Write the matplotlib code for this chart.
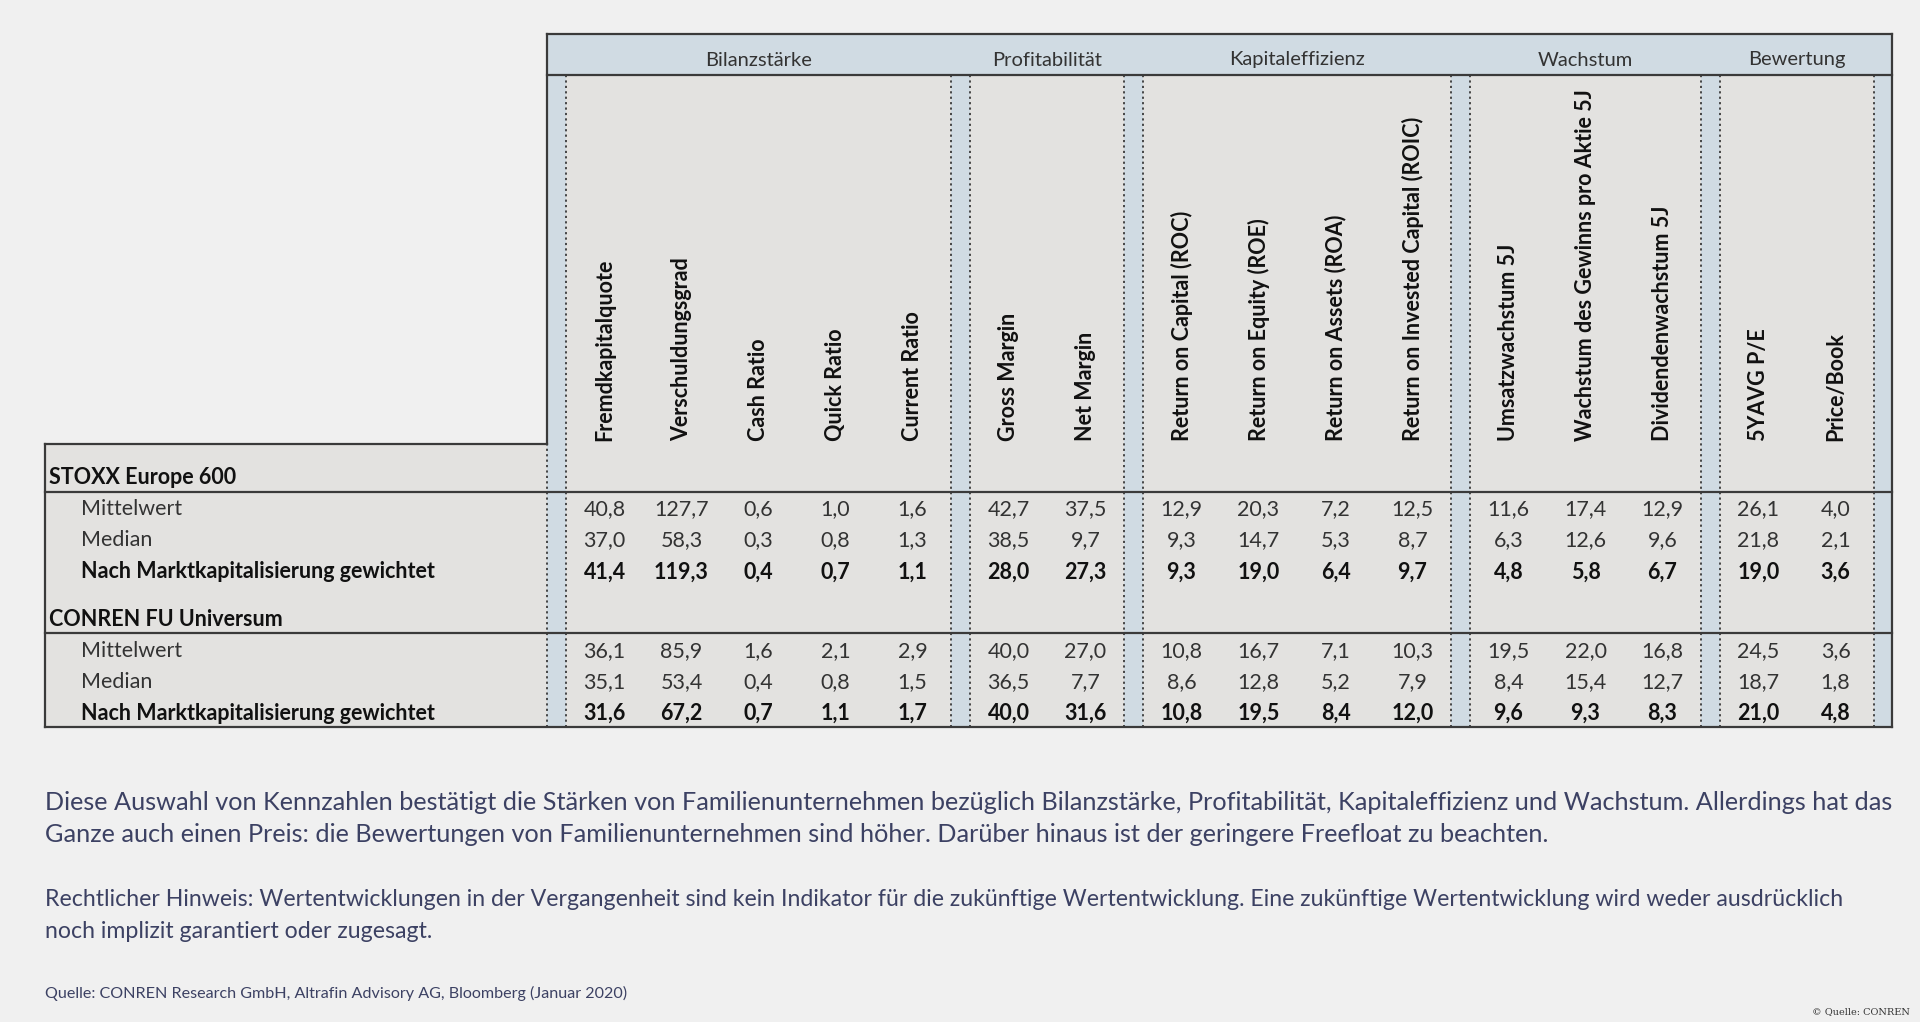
# -*- coding: utf-8 -*-
import numpy as np
import matplotlib.pyplot as plt
from matplotlib.patches import Rectangle

# Gruppen und Kennzahlen
gruppen = ['Bilanzstärke', 'Profitabilität', 'Kapitaleffizienz', 'Wachstum', 'Bewertung']
spalten = [
    ['Fremdkapitalquote', 'Verschuldungsgrad', 'Cash Ratio', 'Quick Ratio', 'Current Ratio'],
    ['Gross Margin', 'Net Margin'],
    ['Return on Capital (ROC)', 'Return on Equity (ROE)', 'Return on Assets (ROA)',
     'Return on Invested Capital (ROIC)'],
    ['Umsatzwachstum 5J', 'Wachstum des Gewinns pro Aktie 5J', 'Dividendenwachstum 5J'],
    ['5YAVG P/E', 'Price/Book'],
]

bloecke = ['STOXX Europe 600', 'CONREN FU Universum']
zeilen = ['Mittelwert', 'Median', 'Nach Marktkapitalisierung gewichtet']

stoxx_mittel = [40.8, 127.7, 0.6, 1.0, 1.6, 42.7, 37.5, 12.9, 20.3, 7.2, 12.5, 11.6, 17.4, 12.9, 26.1, 4.0]
stoxx_median = [37.0, 58.3, 0.3, 0.8, 1.3, 38.5, 9.7, 9.3, 14.7, 5.3, 8.7, 6.3, 12.6, 9.6, 21.8, 2.1]
stoxx_gew = [41.4, 119.3, 0.4, 0.7, 1.1, 28.0, 27.3, 9.3, 19.0, 6.4, 9.7, 4.8, 5.8, 6.7, 19.0, 3.6]
conren_mittel = [36.1, 85.9, 1.6, 2.1, 2.9, 40.0, 27.0, 10.8, 16.7, 7.1, 10.3, 19.5, 22.0, 16.8, 24.5, 3.6]
conren_median = [35.1, 53.4, 0.4, 0.8, 1.5, 36.5, 7.7, 8.6, 12.8, 5.2, 7.9, 8.4, 15.4, 12.7, 18.7, 1.8]
conren_gew = [31.6, 67.2, 0.7, 1.1, 1.7, 40.0, 31.6, 10.8, 19.5, 8.4, 12.0, 9.6, 9.3, 8.3, 21.0, 4.8]

text1 = ["Diese Auswahl von Kennzahlen bestätigt die Stärken von Familienunternehmen bezüglich Bilanzstärke, "
         "Profitabilität, Kapitaleffizienz und Wachstum. Allerdings hat das",
         "Ganze auch einen Preis: die Bewertungen von Familienunternehmen sind höher. "
         "Darüber hinaus ist der geringere Freefloat zu beachten."]
text2 = ["Rechtlicher Hinweis: Wertentwicklungen in der Vergangenheit sind kein Indikator für die zukünftige "
         "Wertentwicklung. Eine zukünftige Wertentwicklung wird weder ausdrücklich",
         "noch implizit garantiert oder zugesagt."]
quelle = "Quelle: CONREN Research GmbH, Altrafin Advisory AG, Bloomberg (Januar 2020)"
copyright_txt = "© Quelle: CONREN"

daten = [[stoxx_mittel, stoxx_median, stoxx_gew], [conren_mittel, conren_median, conren_gew]]

# Farben
bg = '#f0f0f0'
grau = '#e3e2e0'
blau = '#d0dbe3'
linie = '#3a3a3a'
schrift = '#333333'
absatz = '#3c4163'

plt.rcParams['font.family'] = ['Lato', 'DejaVu Sans']

fig = plt.figure(figsize=(19.2, 10.22), dpi=100, facecolor=bg)
ax = fig.add_axes([0, 0, 1, 1])
ax.set_xlim(0, 1920)
ax.set_ylim(1022, 0)
ax.axis('off')

# Geometrie (Pixel)
x_links, x_kopf, x_rechts = 45, 547, 1892
y_oben, y_gruppe, y_box, y_unten = 34, 75, 444, 727
streifen, breite = 19, 77
y_linie = [492, 633]
y_titel = [478, 620]
y_zeilen = [[509, 540, 572], [651, 682, 713]]
fs = 15.5

# Hintergrund
ax.add_patch(Rectangle((x_kopf, y_oben), x_rechts - x_kopf, y_box - y_oben, fc=grau, ec='none'))
ax.add_patch(Rectangle((x_links, y_box), x_rechts - x_links, y_unten - y_box, fc=grau, ec='none'))
ax.add_patch(Rectangle((x_kopf, y_oben), x_rechts - x_kopf, y_gruppe - y_oben, fc=blau, ec='none'))

# Spaltenpositionen
x = x_kopf
spalten_x = []
for g, cols in zip(gruppen, spalten):
    ax.add_patch(Rectangle((x, y_gruppe), streifen, y_unten - y_gruppe, fc=blau, ec='none'))
    for xs in (x, x + streifen):
        ax.plot([xs, xs], [y_gruppe, y_unten], color=linie, lw=1.3, ls=(0, (1.2, 1.8)))
    x0 = x + streifen
    for i, c in enumerate(cols):
        cx = x0 + breite * (i + 0.5)
        spalten_x.append(cx)
        ax.text(cx, 441, c, rotation=90, ha='center', va='bottom', fontsize=fs,
                fontweight='bold', color='#111111')
    x = x0 + breite * len(cols)
    ax.text((x0 + x) / 2, 60, g, ha='center', va='center', fontsize=14.5, color=schrift)
# letzter Streifen
ax.add_patch(Rectangle((x, y_gruppe), x_rechts - x, y_unten - y_gruppe, fc=blau, ec='none'))
ax.plot([x, x], [y_gruppe, y_unten], color=linie, lw=1.3, ls=(0, (1.2, 1.8)))

# Rahmen
lw = 1.6
ax.plot([x_kopf, x_rechts], [y_oben, y_oben], color=linie, lw=lw)
ax.plot([x_kopf, x_rechts], [y_gruppe, y_gruppe], color=linie, lw=lw)
ax.plot([x_rechts, x_rechts], [y_oben, y_unten], color=linie, lw=lw)
ax.plot([x_kopf, x_kopf], [y_oben, y_box], color=linie, lw=lw)
ax.plot([x_links, x_kopf], [y_box, y_box], color=linie, lw=lw)
ax.plot([x_links, x_links], [y_box, y_unten], color=linie, lw=lw)
ax.plot([x_links, x_rechts], [y_unten, y_unten], color=linie, lw=lw)
for yl in y_linie:
    ax.plot([x_links, x_rechts], [yl, yl], color=linie, lw=lw)

# Zeilen und Werte
for b, titel in enumerate(bloecke):
    ax.text(49, y_titel[b], titel, ha='left', va='center', fontsize=fs,
            fontweight='bold', color='#111111')
    for r, name in enumerate(zeilen):
        fett = r == 2
        y = y_zeilen[b][r]
        ax.text(81, y, name, ha='left', va='center', fontsize=fs,
                fontweight='bold' if fett else 'normal', color='#111111' if fett else schrift)
        for cx, v in zip(spalten_x, daten[b][r]):
            ax.text(cx, y, f'{v:.1f}'.replace('.', ','), ha='center', va='center', fontsize=fs,
                    fontweight='bold' if fett else 'normal', color='#111111' if fett else schrift)

# Texte unten - Schriftgroesse an die Breite der ersten Zeile anpassen
renderer = fig.canvas.get_renderer()
def absatz_text(zeilen_txt, y0, ziel_breite):
    t = [ax.text(45, y0 + 32 * i, z, ha='left', va='center', fontsize=17.6, color=absatz)
         for i, z in enumerate(zeilen_txt)]
    w = t[0].get_window_extent(renderer).width
    for tt in t:
        tt.set_fontsize(17.6 * ziel_breite / w)

absatz_text(text1, 802, 1848)
absatz_text(text2, 899, 1803)
ax.text(45, 993, quelle, ha='left', va='center', fontsize=11.6, color=absatz)
ax.text(1910, 1012, copyright_txt, ha='right', va='center', fontsize=7,
        family='DejaVu Serif', color='#333333')

plt.savefig('out.png', dpi=100, facecolor=bg)
